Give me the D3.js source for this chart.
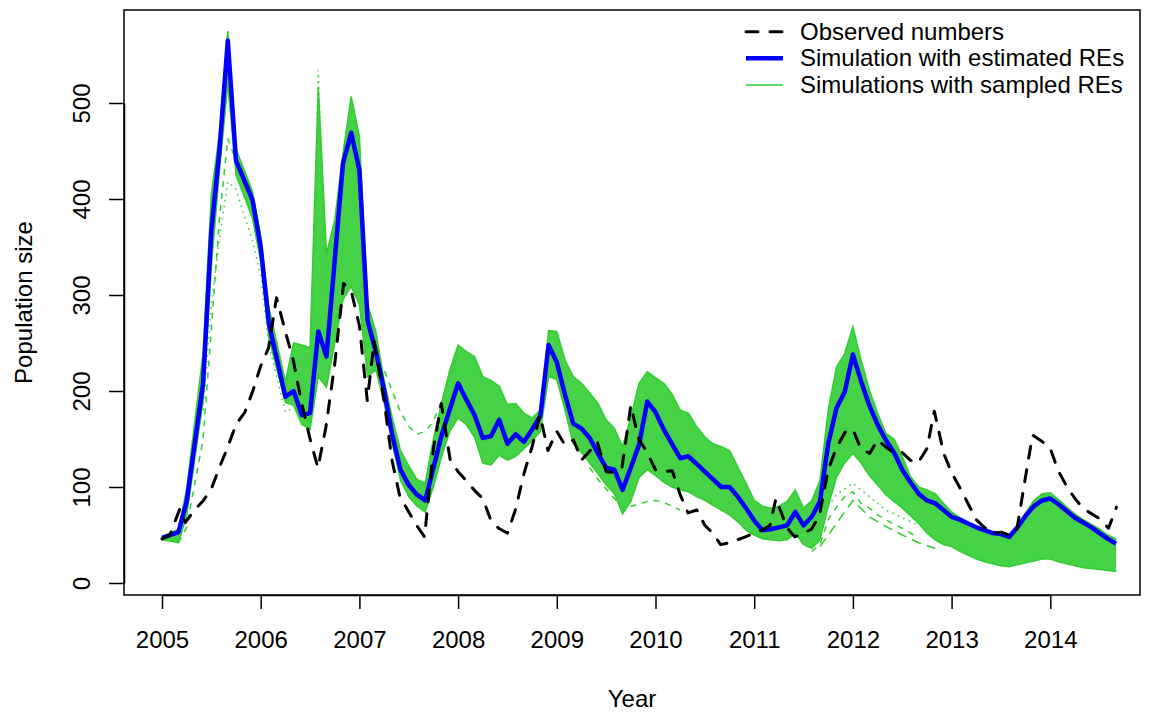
<!DOCTYPE html>
<html>
<head>
<meta charset="utf-8">
<script src="https://cdn.jsdelivr.net/npm/d3@7"></script>
<style>
  body { margin: 0; background: #fff; }
  svg text { font-family: 'Liberation Sans', Arial, Helvetica, sans-serif; fill: #000; }
</style>
</head>
<body>
<svg id="svg1" width="1154" height="713"></svg>
<script>
// Data

// months since Jan 2005 for the simulation runs
let simMonths = [
  0, 2, 3, 5, 6, 7, 8, 9, 11,
  12, 13, 15, 16, 17, 18, 19, 20, 21, 22, 23,
  24, 25, 26, 27, 28, 29, 30, 31, 32, 33, 34, 35,
  36, 37, 38, 39, 40, 41, 42, 43, 44, 45, 46, 47,
  48, 49, 50, 51, 52, 53, 54, 55, 56, 57, 58, 59,
  60, 61, 62, 63, 64, 65, 66, 67, 68, 69, 70, 71,
  72, 73, 74, 75, 76, 77, 78, 79, 80, 81, 82, 83,
  84, 85, 86, 87, 88, 89, 90, 91, 92, 93, 94, 95,
  96, 97, 98, 99, 100, 101, 102, 103, 104, 105, 106, 107,
  108, 109, 110, 111, 112, 113, 114, 115, 116
]

// simulation with estimated REs (blue)
let estimated = [
  47, 53, 85, 208, 367, 452, 565, 440, 399,
  350, 270, 194, 200, 175, 177, 262, 236, 336, 437, 469,
  430, 273, 241, 201, 154, 118, 102, 92, 86, 120, 154, 181,
  208, 191, 175, 151, 153, 170, 145, 155, 147, 160, 174, 248,
  230, 196, 166, 161, 151, 135, 120, 118, 97, 120, 144, 189,
  178, 160, 145, 130, 132, 124, 116, 108, 100, 100, 90, 78,
  65, 55, 56, 58, 60, 74, 60, 69, 85, 145, 182, 199,
  238, 210, 185, 165, 149, 136, 118, 105, 93, 86, 83, 76,
  69, 66, 62, 58, 55, 52, 51, 48, 58, 70, 80, 86,
  88, 82, 75, 68, 63, 58, 52, 46, 41
]

// top and bottom of the dense bundle of sampled-RE runs (green)
let sampledTop = [
  48, 56, 98, 240, 405, 470, 575, 452, 408,
  362, 287, 210, 250, 248, 245, 517, 343, 378, 447, 507,
  465, 290, 262, 211, 172, 138, 122, 108, 104, 150, 188, 222,
  248, 241, 236, 215, 211, 205, 186, 187, 177, 172, 180, 263,
  262, 232, 215, 208, 198, 187, 170, 161, 142, 173, 208, 220,
  214, 208, 197, 180, 177, 163, 152, 145, 142, 138, 121, 104,
  86, 80, 78, 80, 85, 97, 78, 86, 107, 180, 225, 239,
  267, 232, 201, 177, 156, 150, 132, 111, 100, 97, 93, 83,
  74, 68, 62, 59, 55, 53, 53, 51, 59, 73, 86, 93,
  94, 87, 79, 72, 66, 61, 56, 50, 46
]

let sampledBottom = [
  45, 42, 70, 190, 330, 430, 520, 425, 380,
  335, 255, 188, 185, 165, 160, 215, 204, 250, 295, 309,
  290, 215, 222, 188, 145, 107, 90, 80, 74, 100, 132, 158,
  172, 165, 152, 125, 123, 133, 128, 132, 140, 148, 158, 215,
  212, 180, 145, 136, 125, 114, 102, 93, 72, 85, 110, 118,
  112, 105, 100, 97, 95, 90, 86, 81, 76, 71, 64, 55,
  50, 46, 45, 44, 45, 52, 40, 36, 45, 80, 110, 125,
  135, 125, 112, 102, 92, 85, 78, 70, 62, 52, 45, 40,
  38, 33, 29, 25, 22, 20, 18, 17, 19, 21, 23, 25,
  25, 22, 20, 18, 16, 15, 14, 13, 12
]

// single sampled-RE runs standing out of the bundle [month, value]
let dashedEarly = [[2, 42], [3, 58], [5, 150], [6, 265], [7, 380], [8, 463], [9, 440], [11, 396], [12, 348], [13, 266], [15, 192]]
let dottedEarly = [[5, 180], [6, 290], [7, 360], [8, 418], [9, 410], [11, 356], [12, 320], [13, 248], [15, 178], [16, 183], [17, 178], [18, 168], [19, 534], [20, 300]]
let dashedHigh = [[24, 440], [25, 275], [26, 228], [27, 222], [28, 200], [29, 178], [30, 163], [31, 155], [32, 158], [33, 168], [34, 190], [35, 215], [36, 238]]
let dashedMid = [[52, 120], [53, 108], [54, 98], [55, 88], [56, 78], [57, 80], [58, 82], [59, 85], [60, 86], [61, 84], [62, 80], [63, 76]]
let dashedLowA = [[79, 33], [80, 40], [81, 66], [82, 79], [83, 90], [84, 95], [85, 83], [86, 78], [87, 71], [88, 66], [89, 61], [90, 57], [91, 52], [92, 47]]
let dashedLowB = [[80, 38], [82, 62], [84, 86], [86, 69], [88, 59], [90, 50], [92, 42], [94, 36]]
let dashedLowC = [[81, 80], [82, 92], [84, 104], [86, 90], [88, 76], [90, 68], [92, 60]]

// observed numbers [year, count]
let observed = [
  [2005.00, 46], [2005.08, 50], [2005.18, 77], [2005.235, 63], [2005.33, 76], [2005.42, 86],
  [2005.50, 98], [2005.58, 120], [2005.66, 140], [2005.75, 165], [2005.84, 178], [2005.92, 200],
  [2006.00, 226], [2006.08, 245], [2006.16, 297], [2006.25, 262], [2006.33, 232], [2006.41, 190],
  [2006.50, 150], [2006.58, 120], [2006.66, 162], [2006.75, 228], [2006.84, 312], [2006.92, 303],
  [2007.00, 268], [2007.08, 190], [2007.15, 252], [2007.25, 190], [2007.33, 128], [2007.41, 90],
  [2007.50, 74], [2007.58, 60], [2007.66, 48], [2007.75, 140], [2007.83, 187], [2007.92, 128],
  [2008.00, 116], [2008.08, 107], [2008.17, 96], [2008.25, 88], [2008.33, 66], [2008.41, 57],
  [2008.50, 52], [2008.58, 76], [2008.67, 115], [2008.75, 142], [2008.83, 175], [2008.91, 138],
  [2009.00, 158], [2009.08, 144], [2009.17, 149], [2009.25, 128], [2009.33, 137], [2009.41, 147],
  [2009.50, 116], [2009.58, 115], [2009.66, 120], [2009.75, 185], [2009.83, 150], [2009.91, 137],
  [2010.00, 118], [2010.08, 116], [2010.17, 117], [2010.25, 92], [2010.33, 73], [2010.42, 76],
  [2010.50, 60], [2010.58, 52], [2010.66, 40], [2010.75, 42], [2010.83, 45], [2010.91, 48],
  [2011.00, 52], [2011.08, 55], [2011.16, 60], [2011.22, 88], [2011.33, 58], [2011.41, 48],
  [2011.50, 52], [2011.58, 56], [2011.66, 70], [2011.75, 118], [2011.83, 140], [2011.92, 157],
  [2012.00, 160], [2012.08, 140], [2012.17, 135], [2012.25, 149], [2012.33, 142], [2012.42, 135],
  [2012.50, 136], [2012.58, 128], [2012.66, 125], [2012.75, 140], [2012.825, 179], [2012.92, 135],
  [2013.00, 115], [2013.08, 100], [2013.17, 82], [2013.25, 66], [2013.33, 58], [2013.42, 52],
  [2013.50, 53], [2013.58, 50], [2013.66, 55], [2013.74, 105], [2013.82, 154], [2013.91, 148],
  [2014.00, 140], [2014.08, 117], [2014.17, 100], [2014.25, 88], [2014.33, 78], [2014.42, 72],
  [2014.50, 67], [2014.59, 57], [2014.67, 79]
]

let yearTicks = [2005, 2006, 2007, 2008, 2009, 2010, 2011, 2012, 2013, 2014]
let sizeTicks = [0, 100, 200, 300, 400, 500]

let legendItems = [
  {label: 'Observed numbers', color: 'black', width: 3, dash: '12,12'},
  {label: 'Simulation with estimated REs', color: 'blue', width: 4.5, dash: null},
  {label: 'Simulations with sampled REs', color: 'limegreen', width: 1.5, dash: null}
]

// Layout

let box = {left: 124, right: 1140, top: 10, bottom: 595}

let x = d3.scaleLinear().domain([2005, 2014]).range([162, 1050.3])
let y = d3.scaleLinear().domain([0, 500]).range([583, 103])

let monthToYear = m => 2005 + m / 12

let svg = d3.select('#svg1')

let plot = svg.append('g').attr('id', 'plot')

// sampled REs bundle

let bundle = simMonths.map((m, i) => [monthToYear(m), sampledTop[i], sampledBottom[i]])

plot.append('path')
  .datum(bundle)
  .attr('d', d3.area()
    .x(d => x(d[0]))
    .y0(d => y(d[2]))
    .y1(d => y(d[1])))
  .style('fill', 'limegreen')
  .style('fill-opacity', 0.9)
  .style('stroke', 'none')

let edgeLine = d3.line()
  .x(d => x(d[0]))
  .y(d => y(d[1]))

plot.append('g')
  .attr('id', 'bundleEdges')
  .selectAll('path')
  .data([
    bundle.map(d => [d[0], d[1]]),
    bundle.map(d => [d[0], d[2]])
  ])
  .join('path')
  .attr('d', edgeLine)
  .style('stroke', 'limegreen')
  .style('stroke-width', 1.5)
  .style('fill', 'none')

let strayRuns = [
  {pts: dashedEarly, dash: '6,6'},
  {pts: dottedEarly, dash: '1.5,4.5'},
  {pts: dashedHigh, dash: '6,6'},
  {pts: dashedMid, dash: '6,6'},
  {pts: dashedLowA, dash: '6,6'},
  {pts: dashedLowB, dash: '10,6'},
  {pts: dashedLowC, dash: '1.5,4.5'}
]

plot.append('g')
  .attr('id', 'strayRuns')
  .selectAll('path')
  .data(strayRuns)
  .join('path')
  .attr('d', d => d3.line(p => x(monthToYear(p[0])), p => y(p[1]))(d.pts))
  .style('stroke', 'limegreen')
  .style('stroke-width', 1.5)
  .style('stroke-dasharray', d => d.dash)
  .style('fill', 'none')

// estimated REs

plot.append('path')
  .datum(simMonths.map((m, i) => [monthToYear(m), estimated[i]]))
  .attr('d', edgeLine)
  .style('stroke', 'blue')
  .style('stroke-width', 4.5)
  .style('stroke-linejoin', 'round')
  .style('fill', 'none')

// observed

plot.append('path')
  .datum(observed)
  .attr('d', edgeLine)
  .style('stroke', 'black')
  .style('stroke-width', 3)
  .style('stroke-dasharray', '12,12')
  .style('stroke-linecap', 'round')
  .style('stroke-linejoin', 'round')
  .style('fill', 'none')

// frame

svg.append('rect')
  .attr('x', box.left)
  .attr('y', box.top)
  .attr('width', box.right - box.left)
  .attr('height', box.bottom - box.top)
  .style('fill', 'none')
  .style('stroke', 'black')
  .style('stroke-width', 1.5)

// axes

let xAxis = svg.append('g')
  .attr('transform', `translate(0, ${box.bottom})`)
  .call(d3.axisBottom(x).tickValues(yearTicks).tickFormat(d3.format('d')).tickSize(14).tickSizeOuter(0))

xAxis.selectAll('text')
  .attr('y', 53)
  .attr('dy', null)
  .style('font-size', '24px')

let yAxis = svg.append('g')
  .attr('transform', `translate(${box.left}, 0)`)
  .call(d3.axisLeft(y).tickValues(sizeTicks).tickSize(15).tickSizeOuter(0))

yAxis.selectAll('text')
  .attr('transform', 'rotate(-90)')
  .attr('x', 0)
  .attr('y', -34)
  .attr('dy', null)
  .style('text-anchor', 'middle')
  .style('font-size', '24px')

svg.selectAll('.domain, .tick line')
  .style('stroke', 'black')
  .style('stroke-width', 1.5)

// axis titles

svg.append('text')
  .attr('x', (box.left + box.right) / 2)
  .attr('y', 707)
  .style('text-anchor', 'middle')
  .style('font-size', '24px')
  .text('Year')

svg.append('text')
  .attr('transform', `translate(32, ${(box.top + box.bottom) / 2}) rotate(-90)`)
  .style('text-anchor', 'middle')
  .style('font-size', '24px')
  .text('Population size')

// legend

let legend = svg.append('g')
  .attr('id', 'legend')
  .selectAll('g')
  .data(legendItems)
  .join('g')
  .attr('transform', (d, i) => `translate(746, ${31.7 + i * 26.6})`)

legend.append('line')
  .attr('x1', 0)
  .attr('x2', 37)
  .attr('y1', 0)
  .attr('y2', 0)
  .style('stroke', d => d.color)
  .style('stroke-width', d => d.width)
  .style('stroke-dasharray', d => d.dash)
  .style('stroke-linecap', d => d.dash ? 'round' : 'butt')

legend.append('text')
  .attr('x', 54)
  .attr('y', 8)
  .style('font-size', '24px')
  .text(d => d.label)
</script>
</body>
</html>
